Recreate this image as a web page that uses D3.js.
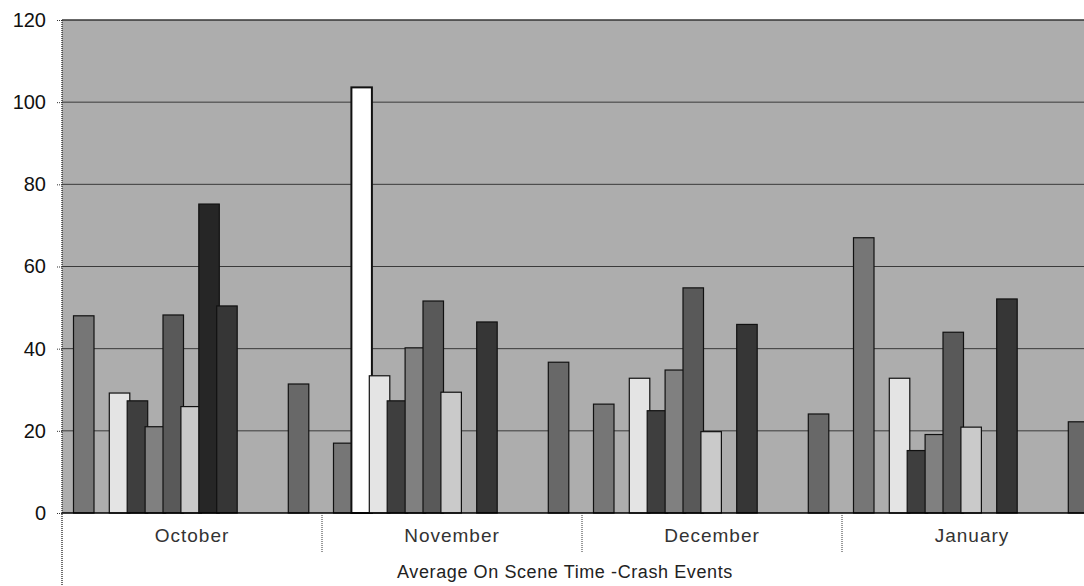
<!DOCTYPE html>
<meta charset="utf-8">
<script src="https://d3js.org/d3.v7.min.js"></script>
<style>
  body { margin: 0; background: white; }
  text { font-family: Arial, "Liberation Sans", sans-serif; }
</style>
<div id="chart"></div>
<script>

// months on the category axis
const months = ["October", "November", "December", "January"];

// one array per series (value for each month)
const series00 = [48, 17, 26.5, 67];
const series01 = [0, 103.6, 0, 0];
const series02 = [29.2, 33.4, 32.8, 32.8];
const series03 = [27.3, 27.3, 24.9, 15.2];
const series04 = [21, 40.2, 34.8, 19.1];
const series05 = [48.2, 51.6, 54.8, 44];
const series06 = [25.9, 29.4, 19.8, 20.9];
const series07 = [75.2, 0, 0, 0];
const series08 = [50.4, 46.5, 45.9, 52.1];
const series09 = [0, 0, 0, 0];
const series10 = [0, 0, 0, 0];
const series11 = [0, 0, 0, 0];
const series12 = [31.4, 36.7, 24.1, 22.2];

const yTicks = [0, 20, 40, 60, 80, 100, 120];
const axisTitle = "Average On Scene Time -Crash Events";

const allSeries = [series00, series01, series02, series03, series04, series05, series06,
                   series07, series08, series09, series10, series11, series12];

// grey shades for each series (the original is a dithered print)
const fills = ["#767676", "#ffffff", "#e4e4e4", "#3e3e3e", "#808080", "#595959", "#cacaca",
               "#262626", "#363636", "#777", "#777", "#777", "#686868"];

const W = 1084, H = 586;
const plotLeft = 62, plotTop = 20, plotBottom = 513;

const svg = d3.select("#chart").append("svg")
    .attr("width", W)
    .attr("height", H);

// month bands run past the right edge (the picture is cropped)
const x = d3.scaleBand()
    .domain(months)
    .range([plotLeft, plotLeft + 4 * 260])
    .padding(0);

// slots inside each month, bars slightly wider than the step (overlap)
const xs = d3.scaleBand()
    .domain(d3.range(allSeries.length))
    .range([11.5, 11.5 + 17.9 * allSeries.length])
    .padding(0);
const barW = 20.5;

const y = d3.scaleLinear()
    .domain([0, 120])
    .range([plotBottom, plotTop]);

// plot area background
svg.append("rect")
    .attr("x", plotLeft)
    .attr("y", plotTop)
    .attr("width", W - plotLeft)
    .attr("height", plotBottom - plotTop)
    .attr("fill", "#adadad");

// gridlines
svg.append("g")
  .selectAll("line")
  .data(yTicks.filter(d => d > 0))
  .enter()
  .append("line")
    .attr("x1", plotLeft)
    .attr("x2", W)
    .attr("y1", d => y(d))
    .attr("y2", d => y(d))
    .attr("stroke", "#3a3a3a")
    .attr("stroke-width", 1);

// bars
const rows = [];
allSeries.forEach((vals, s) => {
  vals.forEach((v, m) => { if (v > 0) rows.push({s: s, m: months[m], v: v}); });
});

svg.append("g")
  .selectAll("rect")
  .data(rows)
  .enter()
  .append("rect")
    .attr("x", d => x(d.m) + xs(d.s))
    .attr("y", d => y(d.v))
    .attr("width", barW)
    .attr("height", d => y(0) - y(d.v))
    .attr("fill", d => fills[d.s])
    .attr("stroke", "#111")
    .attr("stroke-width", d => d.s === 1 ? 2 : 1.2);

// y axis
const yAxis = svg.append("g")
    .attr("transform", "translate(" + plotLeft + ",0)")
    .call(d3.axisLeft(y).tickValues(yTicks).tickSize(6).tickPadding(10));
yAxis.select(".domain").remove();
yAxis.selectAll(".tick line")
    .attr("stroke", "#333")
    .attr("stroke-dasharray", "1,1");
yAxis.selectAll(".tick text")
    .attr("font-size", 20)
    .attr("fill", "#111")
    .style("font-family", "Arial, 'Liberation Sans', sans-serif");

// left axis line runs down through the category area
svg.append("line")
    .attr("x1", plotLeft).attr("x2", plotLeft)
    .attr("y1", plotTop).attr("y2", H)
    .attr("stroke", "#222")
    .attr("stroke-width", 1.3)
    .attr("stroke-dasharray", "1,1");

// top border
svg.append("line")
    .attr("x1", plotLeft).attr("x2", W)
    .attr("y1", plotTop).attr("y2", plotTop)
    .attr("stroke", "#333")
    .attr("stroke-width", 1);

// baseline
svg.append("line")
    .attr("x1", plotLeft).attr("x2", W)
    .attr("y1", plotBottom).attr("y2", plotBottom)
    .attr("stroke", "#000")
    .attr("stroke-width", 1.5);

// month separators
svg.append("g")
  .selectAll("line")
  .data(months.slice(1))
  .enter()
  .append("line")
    .attr("x1", d => x(d)).attr("x2", d => x(d))
    .attr("y1", plotBottom).attr("y2", 552)
    .attr("stroke", "#333")
    .attr("stroke-dasharray", "1,1");

// month labels
svg.append("g")
  .selectAll("text")
  .data(months)
  .enter()
  .append("text")
    .attr("x", d => x(d) + x.bandwidth() / 2)
    .attr("y", 542)
    .attr("text-anchor", "middle")
    .attr("font-size", 19)
    .attr("letter-spacing", 1)
    .attr("fill", "#333")
    .text(d => d);

// axis title
svg.append("text")
    .attr("x", 565)
    .attr("y", 578)
    .attr("text-anchor", "middle")
    .attr("font-size", 18)
    .attr("letter-spacing", 0.6)
    .attr("fill", "#222")
    .text(axisTitle);

</script>
